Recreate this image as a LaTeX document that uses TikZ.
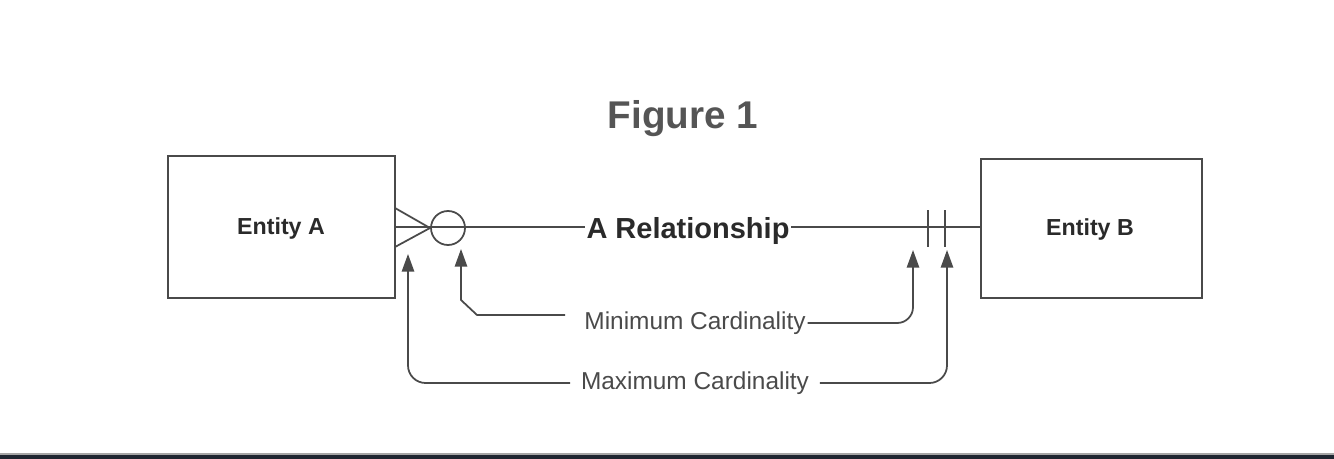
\documentclass[tikz,border=0pt]{standalone}
\usepackage{fontspec}
\setmainfont{Liberation Sans}
\usetikzlibrary{arrows.meta,positioning,calc}
\definecolor{erline}{HTML}{4A4A4A}
\definecolor{ertext}{HTML}{2A2A2A}
\definecolor{ertitle}{HTML}{555555}
\definecolor{erbar}{HTML}{1E2530}
\tikzset{
  erentity/.style={
    rectangle, draw=erline, line width=1pt, inner sep=0pt,
    text=ertext, font=\bfseries\fontsize{13.2}{15}\selectfont
  },
  erlink/.style={draw=erline, line width=1pt},
  eroptional/.style={circle, draw=erline, line width=1pt, minimum size=0.68cm, inner sep=0pt},
  erpointer/.style={-{Triangle[length=10pt,width=7pt]}, draw=erline, line width=1pt},
  errelation/.style={font=\bfseries\fontsize{16.5}{19}\selectfont, text=ertext, fill=white, inner xsep=1pt, inner ysep=2pt, yshift=-2pt},
  ercaption/.style={font=\fontsize{13.9}{16}\selectfont, text=ertext!85, inner sep=0pt},
  ertitlefont/.style={font=\bfseries\fontsize{22}{26}\selectfont, text=ertitle}
}

\begin{document}
\begin{tikzpicture}[x=0.02cm, y=-0.02cm]
  \useasboundingbox (0,0) rectangle (1334,459);
  % title and entities
  \node[ertitlefont] (title) at (683,119) {Figure 1};
  \node[erentity, minimum width=4.54cm, minimum height=2.84cm] (entA) at (281.5,227) {};
  \node[erentity, minimum width=4.42cm, minimum height=2.78cm] (entB) at (1091.5,228.5) {};
  \node[erentity, draw=none] (entAname) at (281,229) {Entity A};
  \node[erentity, draw=none] (entBname) at (1090,230) {Entity B};
  % relationship line
  \draw[erlink] (entA.east) -- node[errelation] (rel) {A Relationship} (entA.east -| entB.west);
  % crow's foot and optional circle on the A side
  \coordinate (crowtip) at (430,228);
  \draw[erlink] (395,208) -- (crowtip) -- (395,247);
  \node[eroptional] (optA) at (448,228) {};
  % mandatory bars on the B side
  \draw[erlink] (928,210) -- (928,247);
  \draw[erlink] (945,210) -- (945,247);
  % cardinality labels
  \node[ercaption] (mincard) at (695,323) {Minimum Cardinality};
  \node[ercaption] (maxcard) at (695,383) {Maximum Cardinality};
  \coordinate (minAtip) at (461,249);
  \coordinate (maxAtip) at (408,254);
  \coordinate (minBtip) at (913,250);
  \coordinate (maxBtip) at (947,250);
  \coordinate (minAstart) at (565,315);
  \draw[erpointer] (minAstart) -- (477,315) -- (461,300) -- (minAtip);
  \draw[erpointer, rounded corners=9pt] ([xshift=1pt]mincard.east) -- (minBtip |- mincard.east) -- (minBtip);
  \draw[erpointer, rounded corners=10pt] ([xshift=-6pt]maxcard.west) -- (maxAtip |- maxcard.west) -- (maxAtip);
  \draw[erpointer, rounded corners=10pt] ([xshift=6pt]maxcard.east) -- (maxBtip |- maxcard.east) -- (maxBtip);
  % bottom bar
  \fill[gray!70] (0,453) rectangle (1334,455);
  \fill[erbar] (0,455) rectangle (1334,459);
\end{tikzpicture}
\end{document}
